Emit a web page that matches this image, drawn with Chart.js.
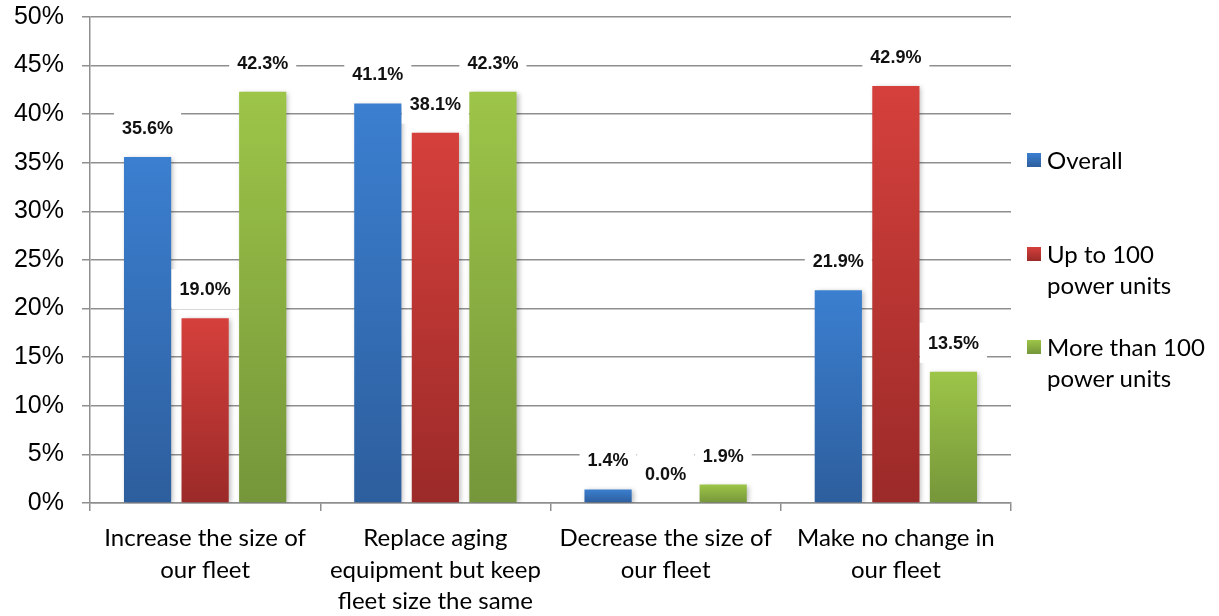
<!DOCTYPE html>
<html>
<head>
<meta charset="utf-8">
<script src="https://cdn.jsdelivr.net/npm/chart.js@4/dist/chart.umd.min.js"></script>
<style>
  body { margin: 0; background: #fff; }
  #wrap { position: relative; width: 1219px; height: 616px; }
  #legend { position: absolute; left: 1027px; top: 0; font-family: Lato, "Open Sans", sans-serif; font-size: 24px; color: #000; }
  .item { position: absolute; left: 0; white-space: nowrap; line-height: 31px; }
  .item i { position: absolute; left: 0; top: 9px; width: 14px; height: 14px; }
  .item span { display: block; margin-left: 20px; }
</style>
</head>
<body>
<div id="wrap">
  <canvas id="chart" width="1219" height="616"></canvas>
  <div id="legend"></div>
</div>
<script>
const categories = [
  ['Increase the size of', 'our fleet'],
  ['Replace aging', 'equipment but keep', 'fleet size the same'],
  ['Decrease the size of', 'our fleet'],
  ['Make no change in', 'our fleet']
];
const seriesNames = [['Overall'], ['Up to 100', 'power units'], ['More than 100', 'power units']];
const overall = [35.6, 41.1, 1.4, 21.9];
const upTo100 = [19.0, 38.1, 0.0, 42.9];
const moreThan100 = [42.3, 42.3, 1.9, 13.5];
const yTicks = [0, 5, 10, 15, 20, 25, 30, 35, 40, 45, 50];

// top / bottom colours of each series' bar gradient
const palette = [
  ['#3b7fd0', '#2d5e9d'],
  ['#d5403c', '#9b2a28'],
  ['#9dc548', '#75963a']
];

function barFill(idx) {
  return function(ctx) {
    const chart = ctx.chart;
    if (!chart.chartArea || ctx.raw == null) return palette[idx][0];
    const y = chart.scales.y;
    const top = y.getPixelForValue(ctx.raw);
    const bottom = y.getPixelForValue(0);
    if (bottom - top < 1) return palette[idx][1];
    const g = chart.ctx.createLinearGradient(0, top, 0, bottom);
    g.addColorStop(0, palette[idx][0]);
    g.addColorStop(1, palette[idx][1]);
    return g;
  };
}

// soft shadow behind the bars
const barShadow = {
  id: 'barShadow',
  beforeDatasetsDraw(chart) {
    const ctx = chart.ctx;
    ctx.save();
    ctx.shadowColor = 'rgba(0,0,0,0.28)';
    ctx.shadowBlur = 5;
    ctx.shadowOffsetX = 2;
    ctx.shadowOffsetY = 1;
  },
  afterDatasetsDraw(chart) {
    chart.ctx.restore();
  }
};

// value labels on white boxes above each bar
const valueLabels = {
  id: 'valueLabels',
  afterDatasetsDraw(chart) {
    const ctx = chart.ctx;
    ctx.save();
    ctx.font = 'bold 18px "Liberation Sans", Arial, sans-serif';
    ctx.textAlign = 'center';
    ctx.textBaseline = 'middle';
    chart.data.datasets.forEach((ds, i) => {
      chart.getDatasetMeta(i).data.forEach((bar, j) => {
        const text = ds.data[j].toFixed(1) + '%';
        const cy = bar.y - 29;
        const w = ctx.measureText(text).width + 16;
        ctx.fillStyle = '#fff';
        ctx.fillRect(bar.x - w / 2, cy - 20, w, 40);
        ctx.fillStyle = '#111';
        ctx.fillText(text, bar.x, cy + 1);
      });
    });
    ctx.restore();
  }
};

const datasets = [overall, upTo100, moreThan100].map((vals, i) => ({
  label: seriesNames[i].join(' '),
  data: vals,
  backgroundColor: barFill(i),
  borderWidth: 0,
  categoryPercentage: 0.75,
  barPercentage: 0.82
}));

new Chart(document.getElementById('chart'), {
  type: 'bar',
  data: { labels: categories, datasets: datasets },
  options: {
    responsive: false,
    animation: false,
    events: [],
    layout: { padding: { top: 17, right: 208, left: 0, bottom: 0 } },
    plugins: { legend: { display: false }, tooltip: { enabled: false } },
    scales: {
      x: {
        afterFit(scale) { scale.height = 113; },
        grid: { offset: true, drawOnChartArea: false, color: '#8f8f8f', lineWidth: 1.5, tickLength: 8 },
        border: { color: '#8f8f8f', width: 1.5 },
        ticks: {
          color: '#000',
          padding: 12,
          maxRotation: 0,
          font: { family: 'Lato, "Open Sans", sans-serif', size: 24, lineHeight: 1.3 }
        }
      },
      y: {
        min: 0,
        max: 50,
        afterFit(scale) {
          scale.width = 90;
          scale.paddingTop = 0;
          scale.paddingBottom = 0;
        },
        afterBuildTicks(scale) { scale.ticks = yTicks.map(v => ({ value: v })); },
        grid: { color: '#8f8f8f', lineWidth: 1.5, tickLength: 8 },
        border: { color: '#8f8f8f', width: 1.5 },
        ticks: {
          color: '#000',
          padding: 18,
          font: { family: '"Liberation Sans", Arial, sans-serif', size: 25 },
          callback: v => v + '%'
        }
      }
    }
  },
  plugins: [barShadow, valueLabels]
});

// legend on the right
const legendTops = [144, 238, 331];
const legend = document.getElementById('legend');
seriesNames.forEach((lines, i) => {
  const item = document.createElement('div');
  item.className = 'item';
  item.style.top = legendTops[i] + 'px';
  const sw = document.createElement('i');
  sw.style.background = 'linear-gradient(' + palette[i][0] + ',' + palette[i][1] + ')';
  item.appendChild(sw);
  lines.forEach(l => {
    const s = document.createElement('span');
    s.textContent = l;
    item.appendChild(s);
  });
  legend.appendChild(item);
});
</script>
</body>
</html>
